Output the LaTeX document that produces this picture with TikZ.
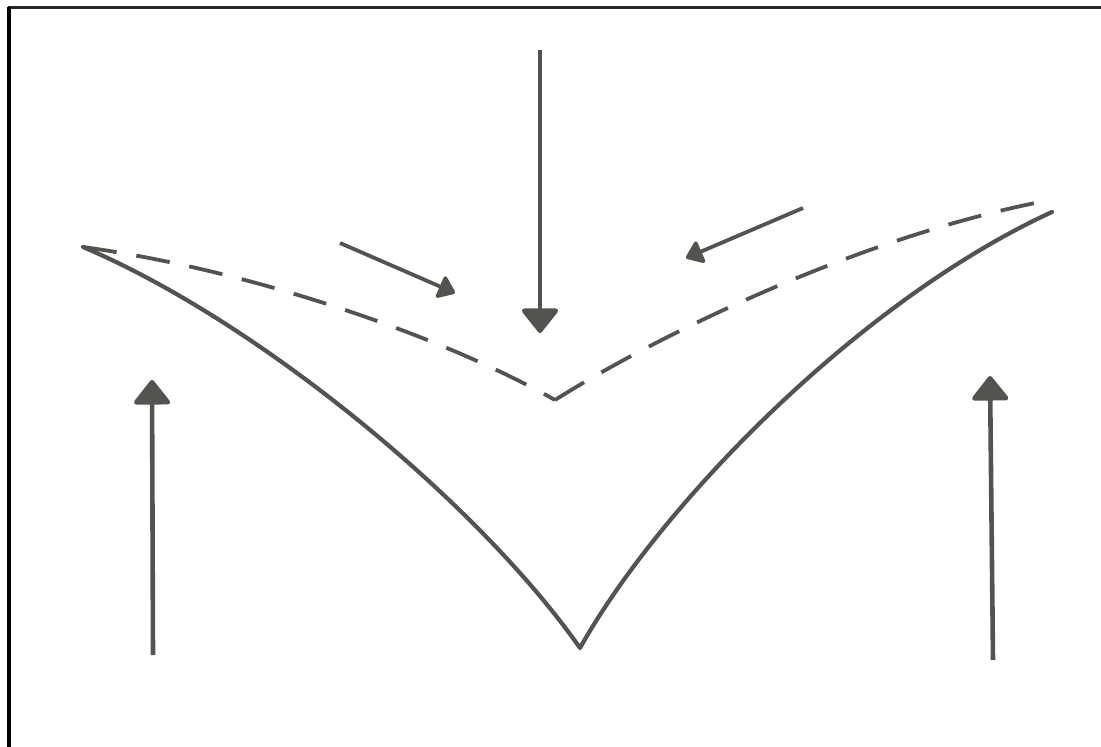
\documentclass[tikz,border=0pt]{standalone}
\usetikzlibrary{arrows.meta}
\definecolor{ink}{RGB}{82,84,80}
\tikzset{
  curve/.style={draw=ink, line width=4.2pt, line cap=round, line join=round},
  dashcurve/.style={draw=ink, line width=3.8pt, dash pattern=on 34pt off 20pt},
  flowarrow/.style={draw=ink, line width=4.6pt, -{Triangle[width=40pt,length=26pt,round]}},
  smallarrow/.style={draw=ink, line width=3.8pt, -{Triangle[width=26pt,length=18pt,round]}}
}
\begin{document}
\begin{tikzpicture}[x=1pt,y=-1pt]
\useasboundingbox (0,0) rectangle (1101,747);
% frame (top and left only)
\draw[line width=3pt, black!85] (8,7) -- (1101,7);
\draw[line width=4pt, black] (9,7) -- (9,747);
% key points
\coordinate (tipL) at (83,247);
\coordinate (tipR) at (1052,212);
\coordinate (cusp) at (580,648);
\coordinate (dv) at (555,400);
\coordinate (dR) at (1040,202);
% solid cusp curve
\draw[curve] (tipL) .. controls (260,322) and (480,505) .. (cusp)
  .. controls (660,505) and (860,300) .. (tipR);
% dashed curve
\draw[dashcurve] (tipL) .. controls (250,270) and (440,335) .. (dv);
\draw[dashcurve] (dv) .. controls (650,340) and (850,240) .. (dR);
% arrows
\coordinate (cTop) at (540,50);
\coordinate (cTip) at (540,333);
\draw[flowarrow] (cTop) -- (cTip);
\coordinate (lBot) at (153,655);
\coordinate (lTip) at (152,380);
\draw[flowarrow] (lBot) -- (lTip);
\coordinate (rBot) at (993,660);
\coordinate (rTip) at (990,376);
\draw[flowarrow] (rBot) -- (rTip);
\coordinate (s1a) at (340,243);
\coordinate (s1b) at (455,293);
\draw[smallarrow] (s1a) -- (s1b);
\coordinate (s2a) at (803,208);
\coordinate (s2b) at (686,258);
\draw[smallarrow] (s2a) -- (s2b);
\end{tikzpicture}
\end{document}
